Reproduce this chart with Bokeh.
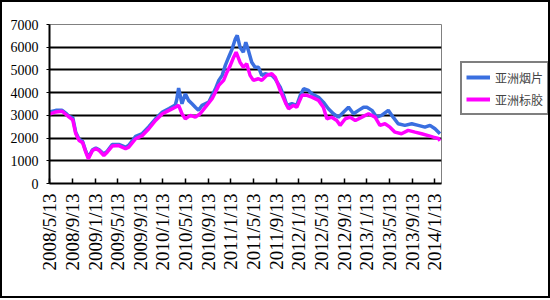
import math
import pandas as pd
from bokeh.plotting import figure
from bokeh.layouts import row
from bokeh.models import Range1d, FixedTicker, Legend, LegendItem, ColumnDataSource
from bokeh.embed import file_html
from bokeh.resources import INLINE

# ---------------- data ----------------
series_names = ["亚洲烟片", "亚洲标胶"]
tick_labels = ["2008/5/13", "2008/9/13", "2009/1/13", "2009/5/13", "2009/9/13",
               "2010/1/13", "2010/5/13", "2010/9/13", "2011/1/13", "2011/5/13",
               "2011/9/13", "2012/1/13", "2012/5/13", "2012/9/13", "2013/1/13",
               "2013/5/13", "2013/9/13", "2014/1/13"]
y_ticks = [0, 1000, 2000, 3000, 4000, 5000, 6000, 7000]
x_start = "2008-05-13"
x_end = "2014-02-18"

rss_dates = ["2008-05-13", "2008-06-16", "2008-07-20", "2008-08-08", "2008-08-27", "2008-09-15",
             "2008-10-01", "2008-10-19", "2008-11-07", "2008-11-24", "2008-12-08", "2008-12-30",
             "2009-01-17", "2009-02-04", "2009-03-01", "2009-03-19", "2009-04-15", "2009-05-20",
             "2009-06-26", "2009-07-13", "2009-08-19", "2009-09-24", "2009-10-29", "2009-12-04",
             "2010-01-10", "2010-02-15", "2010-03-20", "2010-03-28", "2010-04-07", "2010-04-25",
             "2010-05-13", "2010-05-30", "2010-06-18", "2010-07-06", "2010-07-23", "2010-08-11",
             "2010-09-16", "2010-10-04", "2010-10-22", "2010-11-09", "2010-11-27", "2010-12-14",
             "2011-01-01", "2011-01-20", "2011-02-06", "2011-02-16", "2011-03-03", "2011-03-21",
             "2011-04-03", "2011-04-17", "2011-05-05", "2011-05-23", "2011-06-10", "2011-06-28",
             "2011-07-16", "2011-08-21", "2011-09-08", "2011-10-05", "2011-10-23", "2011-11-10",
             "2011-12-07", "2012-01-02", "2012-01-21", "2012-02-08", "2012-03-05", "2012-03-23",
             "2012-04-28", "2012-05-24", "2012-06-20", "2012-07-17", "2012-08-13", "2012-09-09",
             "2012-10-06", "2012-11-02", "2012-11-29", "2012-12-26", "2013-01-13", "2013-02-09",
             "2013-03-07", "2013-04-02", "2013-05-08", "2013-06-03", "2013-06-30", "2013-08-05",
             "2013-09-11", "2013-10-16", "2013-11-21", "2013-12-18", "2014-01-14", "2014-02-10"]
rss_values = [3150, 3220, 3220, 3100, 2950, 2900,
              2250, 1950, 1850, 1420, 1150, 1480,
              1560, 1480, 1300, 1420, 1720, 1720,
              1600, 1680, 2080, 2200, 2500, 2850,
              3150, 3300, 3450, 3700, 4200, 3510,
              3950, 3660, 3510, 3360, 3220, 3440,
              3580, 3880, 4170, 4540, 4760, 5200,
              5560, 5930, 6370, 6520, 6000, 5780,
              6220, 5860, 5340, 5120, 5120, 4760,
              4830, 4760, 4610, 4240, 3880, 3440,
              3510, 3440, 3880, 4170, 4100, 3950,
              3800, 3580, 3290, 3070, 2920, 3140,
              3360, 3070, 3220, 3360, 3360, 3220,
              2920, 3000, 3220, 2920, 2630, 2560,
              2630, 2560, 2480, 2560, 2410, 2190]

tsr_dates = ["2008-05-13", "2008-06-16", "2008-07-20", "2008-08-08", "2008-08-27", "2008-09-15",
             "2008-10-01", "2008-10-19", "2008-11-07", "2008-11-24", "2008-12-08", "2008-12-30",
             "2009-01-17", "2009-02-04", "2009-03-01", "2009-03-19", "2009-04-15", "2009-05-20",
             "2009-06-26", "2009-07-13", "2009-08-19", "2009-09-24", "2009-10-29", "2009-12-04",
             "2010-01-10", "2010-02-15", "2010-03-20", "2010-04-07", "2010-04-25", "2010-05-13",
             "2010-06-09", "2010-07-06", "2010-08-01", "2010-08-29", "2010-10-04", "2010-10-22",
             "2010-11-09", "2010-12-05", "2010-12-23", "2011-01-10", "2011-01-28", "2011-02-10",
             "2011-03-03", "2011-03-21", "2011-04-08", "2011-04-26", "2011-05-14", "2011-06-10",
             "2011-06-28", "2011-07-25", "2011-08-21", "2011-09-08", "2011-10-05", "2011-11-01",
             "2011-11-19", "2011-12-15", "2012-01-02", "2012-01-30", "2012-02-26", "2012-03-23",
             "2012-04-28", "2012-05-24", "2012-06-12", "2012-07-08", "2012-08-04", "2012-08-22",
             "2012-09-19", "2012-10-15", "2012-11-12", "2012-12-17", "2013-01-22", "2013-02-26",
             "2013-03-24", "2013-04-20", "2013-05-17", "2013-06-13", "2013-07-18", "2013-08-23",
             "2013-09-29", "2013-11-03", "2013-12-09", "2014-01-05", "2014-02-01", "2014-02-10"]
tsr_values = [3050, 3150, 3180, 3050, 2920, 2800,
              2200, 1890, 1800, 1380, 1090, 1450,
              1530, 1450, 1230, 1380, 1650, 1670,
              1530, 1600, 1970, 2110, 2410, 2775,
              3070, 3220, 3360, 3440, 3070, 2850,
              3000, 2920, 3070, 3360, 3730, 4020,
              4320, 4540, 4900, 5200, 5560, 5780,
              5340, 5120, 5270, 4760, 4540, 4610,
              4540, 4760, 4830, 4680, 4100, 3580,
              3290, 3440, 3360, 3880, 3880, 3800,
              3660, 3360, 2850, 2920, 2775, 2560,
              2850, 2920, 2775, 2920, 3070, 2920,
              2560, 2630, 2480, 2260, 2190, 2340,
              2260, 2190, 2110, 2040, 1980, 1880]

series_colors = ["#3a6fe0", "#ff00ff"]

# ---------------- main figure ----------------
p = figure(width=452, height=294, x_axis_type="datetime",
           x_range=Range1d(pd.Timestamp(x_start).to_pydatetime(), pd.Timestamp(x_end).to_pydatetime()),
           y_range=Range1d(y_ticks[0], y_ticks[-1]),
           output_backend="svg", toolbar_location=None,
           min_border_left=47, min_border_top=22, min_border_right=13, min_border_bottom=113)
p.background_fill_color = "white"
p.border_fill_color = "white"
p.outline_line_color = "#808080"
p.outline_line_width = 1

src_rss = ColumnDataSource(dict(x=pd.to_datetime(rss_dates), y=rss_values))
src_tsr = ColumnDataSource(dict(x=pd.to_datetime(tsr_dates), y=tsr_values))
r1 = p.line("x", "y", source=src_rss, line_color=series_colors[0], line_width=3.5)
r2 = p.line("x", "y", source=src_tsr, line_color=series_colors[1], line_width=3.5)

# x axis
tick_ts = pd.to_datetime(tick_labels, format="%Y/%m/%d")
tick_ms = [int(t.value // 10**6) for t in tick_ts]
p.xaxis.ticker = FixedTicker(ticks=tick_ms)
p.xaxis.major_label_overrides = {ms: lab for ms, lab in zip(tick_ms, tick_labels)}
p.xaxis.major_label_orientation = math.pi / 2
p.xaxis.major_label_text_font = "Liberation Serif"
p.xaxis.major_label_text_font_size = "19px"
p.xaxis.major_label_text_color = "black"
p.xaxis.major_label_standoff = 10
p.xaxis.major_tick_in = 5
p.xaxis.major_tick_out = 0
p.xaxis.major_tick_line_width = 1.5
p.xaxis.minor_tick_line_color = None
p.xaxis.axis_line_width = 2
p.xaxis.axis_line_color = "black"

# y axis
p.yaxis.ticker = FixedTicker(ticks=y_ticks)
p.yaxis.major_label_text_font = "Liberation Serif"
p.yaxis.major_label_text_font_size = "14px"
p.yaxis.major_label_text_color = "black"
p.yaxis.major_label_standoff = 8
p.yaxis.major_tick_in = 0
p.yaxis.major_tick_out = 3
p.yaxis.minor_tick_line_color = None
p.yaxis.axis_line_width = 2
p.yaxis.axis_line_color = "black"

p.xgrid.visible = False
p.ygrid.grid_line_color = "black"
p.ygrid.grid_line_width = 2

# ---------------- legend strip (right) ----------------
# its ranges lie far from the data, so the series lines there stay out of view;
# they only supply the legend's line swatches
pl = figure(width=94, height=294, x_range=Range1d(0, 1), y_range=Range1d(0, 1),
            x_axis_location=None, y_axis_location=None,
            output_backend="svg", toolbar_location=None,
            min_border_left=0, min_border_right=0, min_border_top=22, min_border_bottom=113)
pl.grid.visible = False
pl.outline_line_color = None
pl.background_fill_color = "white"
pl.border_fill_color = "white"
k1 = pl.line("x", "y", source=src_rss, line_color=series_colors[0], line_width=4)
k2 = pl.line("x", "y", source=src_tsr, line_color=series_colors[1], line_width=4)

legend = Legend(items=[LegendItem(label=series_names[0], renderers=[k1]),
                       LegendItem(label=series_names[1], renderers=[k2])],
                location=(6, 68), margin=0, padding=4, spacing=2,
                glyph_width=24, glyph_height=20, label_height=20, label_standoff=5,
                label_text_font="Noto Sans CJK SC", label_text_font_size="12px",
                border_line_color="black", border_line_width=2,
                background_fill_color="white", background_fill_alpha=1)
pl.add_layout(legend, "center")

layout = row(p, pl, spacing=0)
layout.styles = {"border": "2px solid #000000"}

open("out.html", "w").write(file_html(layout, INLINE))
